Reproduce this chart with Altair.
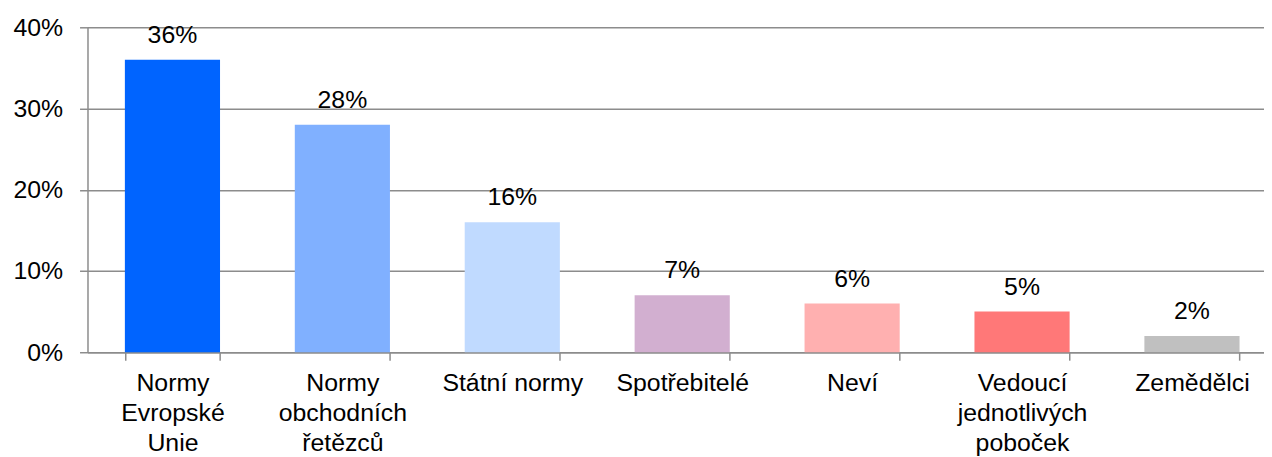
import altair as alt
import pandas as pd

categories = [
    "Normy\nEvropské\nUnie",
    "Normy\nobchodních\nřetězců",
    "Státní normy",
    "Spotřebitelé",
    "Neví",
    "Vedoucí\njednotlivých\npoboček",
    "Zemědělci",
]
values = [36, 28, 16, 7, 6, 5, 2]
colors = ["#0064FF", "#80B0FF", "#C0DAFF", "#D2AFD0", "#FFB0B0", "#FF7878", "#C0C0C0"]

df = pd.DataFrame({"cat": categories, "val": values, "col": colors})
df["lab"] = df["val"].astype(str) + "%"

FONT = "Liberation Sans"
GRID = "#8c8c8c"
FS = 25

x = alt.X(
    "cat:N",
    sort=categories,
    title=None,
    scale=alt.Scale(range=[0, 1197], paddingInner=0.44, paddingOuter=0.22),
    axis=alt.Axis(
        labelAngle=0,
        labelExpr="split(datum.label, '\\n')",
        labelBaseline="top",
        labelAlign="center",
        labelLineHeight=30,
        labelFontSize=FS,
        labelFont=FONT,
        labelColor="black",
        labelPadding=11,
        labelLimit=0,
        tickBand="extent",
        tickSize=8,
        tickColor=GRID,
        tickWidth=1.5,
        domainColor=GRID,
        domainWidth=1.5,
        grid=False,
    ),
)

y = alt.Y(
    "val:Q",
    title=None,
    scale=alt.Scale(domain=[0, 40], nice=False),
    axis=alt.Axis(
        values=[0, 10, 20, 30, 40],
        labelExpr="datum.value + '%'",
        labelFontSize=FS,
        labelFont=FONT,
        labelColor="black",
        labelPadding=17,
        tickSize=8,
        tickColor=GRID,
        tickWidth=1.5,
        domainColor=GRID,
        domainWidth=1.5,
        grid=True,
        gridColor=GRID,
        gridWidth=1.5,
    ),
)

bars = alt.Chart(df).mark_bar().encode(
    x=x,
    y=y,
    color=alt.Color("col:N", scale=None, legend=None),
)

labels = alt.Chart(df).mark_text(
    dy=-17, baseline="alphabetic", fontSize=FS, font=FONT, color="black"
).encode(x=alt.X("cat:N", sort=categories), y="val:Q", text="lab:N")

chart = (
    alt.layer(bars, labels)
    .properties(
        width=1176,
        height=327,
        autosize=alt.AutoSizeParams(type="none"),
        padding={"left": 80, "top": 18, "right": 8, "bottom": 104},
    )
    .configure_view(stroke=None)
)

chart.save("out.html", embed_options={"renderer": "svg", "actions": False})
